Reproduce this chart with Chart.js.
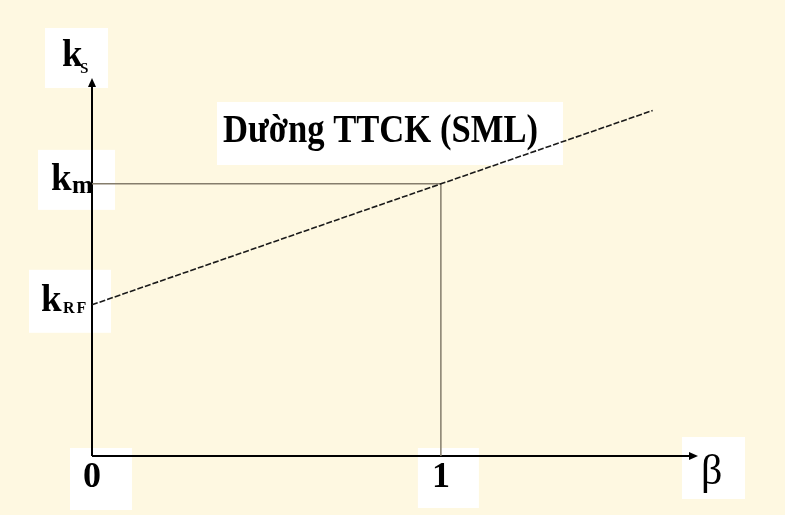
<!DOCTYPE html>
<html>
<head>
<meta charset="utf-8">
<script src="https://cdn.jsdelivr.net/npm/chart.js@4/dist/chart.umd.min.js"></script>
<style>
  html, body { margin: 0; padding: 0; background: #fef8e1; }
  canvas { display: block; }
</style>
</head>
<body>
<canvas id="c" width="785" height="515"></canvas>
<script>
// đường SML: beta -> lợi suất kỳ vọng
const smlBeta = [0, 1, 1.607];
const smlK = [0.4, 0.72, 0.914];
const kRF = 0.4;
const kM = 0.72;
const betaM = 1;
const xMax = 1.737;
const yMax = 1.0;
const xTickLabels = ["0", "1"];
const xTickValues = [0, 1];
const title = "Dường TTCK (SML)";

const SERIF = '"Liberation Serif", "DejaVu Serif", serif';

function arrow(ctx, x, y, dir) {
  // tam giác nhỏ ở đầu trục
  ctx.beginPath();
  if (dir === "up") {
    ctx.moveTo(x, y);
    ctx.lineTo(x - 4, y + 9);
    ctx.lineTo(x + 4, y + 9);
  } else {
    ctx.moveTo(x, y);
    ctx.lineTo(x - 9, y - 4);
    ctx.lineTo(x - 9, y + 4);
  }
  ctx.closePath();
  ctx.fill();
}

function box(ctx, x1, y1, x2, y2) {
  ctx.fillStyle = "#ffffff";
  ctx.fillRect(x1, y1, x2 - x1, y2 - y1);
}

const labelsPlugin = {
  id: "labels",
  beforeDatasetsDraw(chart) {
    const { ctx, scales: { x, y } } = chart;
    const x0 = x.getPixelForValue(0), y0 = y.getPixelForValue(0);
    const xEnd = x.getPixelForValue(xMax), yTop = y.getPixelForValue(yMax);
    const pm = y.getPixelForValue(kM), prf = y.getPixelForValue(kRF);
    const p1 = x.getPixelForValue(betaM);
    ctx.save();
    box(ctx, x0 - 47, yTop - 50, x0 + 16, yTop + 10);
    box(ctx, x0 - 54, pm - 34, x0 + 23, pm + 26);
    box(ctx, x0 - 63, prf - 35, x0 + 19, prf + 28);
    box(ctx, x0 - 22, y0 - 8, x0 + 40, y0 + 54);
    box(ctx, p1 - 23, y0 - 8, p1 + 38, y0 + 52);
    box(ctx, xEnd - 16, y0 - 19, xEnd + 47, y0 + 43);
    box(ctx, x0 + 125, yTop + 24, x0 + 471, yTop + 87);

    // trục
    ctx.strokeStyle = "#000";
    ctx.fillStyle = "#000";
    ctx.lineWidth = 2;
    ctx.beginPath();
    ctx.moveTo(x0, y0);
    ctx.lineTo(x0, yTop + 4);
    ctx.moveTo(x0, y0);
    ctx.lineTo(xEnd - 4, y0);
    ctx.stroke();
    arrow(ctx, x0, yTop, "up");
    arrow(ctx, xEnd, y0, "right");
    ctx.restore();
  },
  afterDatasetsDraw(chart) {
    const { ctx, scales: { x, y } } = chart;
    const x0 = x.getPixelForValue(0), y0 = y.getPixelForValue(0);
    const xEnd = x.getPixelForValue(xMax), yTop = y.getPixelForValue(yMax);
    const pm = y.getPixelForValue(kM), prf = y.getPixelForValue(kRF);
    ctx.save();
    ctx.fillStyle = "#000";
    ctx.textBaseline = "alphabetic";
    ctx.textAlign = "left";

    ctx.font = "bold 37px " + SERIF;
    ctx.fillText("k", x0 - 30, yTop - 12);
    ctx.font = "22px " + SERIF;
    ctx.fillText("s", x0 - 12, yTop - 5);

    ctx.font = "bold 37px " + SERIF;
    ctx.fillText("k", x0 - 41, pm + 6);
    ctx.font = "bold 25px " + SERIF;
    ctx.fillText("m", x0 - 20, pm + 9);

    ctx.font = "bold 37px " + SERIF;
    ctx.fillText("k", x0 - 51, prf + 6);
    ctx.font = "bold 16px " + SERIF;
    ctx.letterSpacing = "2px";
    ctx.fillText("RF", x0 - 29, prf + 8);
    ctx.letterSpacing = "0px";

    ctx.font = "bold 36px " + SERIF;
    xTickValues.forEach((v, i) => {
      const px = x.getPixelForValue(v);
      ctx.fillText(xTickLabels[i], px - 9, y0 + 31);
    });

    ctx.font = "42px " + SERIF;
    ctx.fillText("β", xEnd + 3, y0 + 28);

    ctx.font = "bold 40px " + SERIF;
    ctx.fillText(title, x0 + 131, yTop + 64, 315);
    ctx.restore();
  }
};

new Chart(document.getElementById("c"), {
  type: "scatter",
  data: {
    datasets: [
      {
        label: "SML",
        data: smlBeta.map((b, i) => ({ x: b, y: smlK[i] })),
        showLine: true,
        borderColor: "#1a1a1a",
        borderWidth: 1.6,
        borderDash: [6, 2],
        pointRadius: 0,
        clip: false,
        order: 0
      },
      {
        label: "guide",
        data: [{ x: 0, y: kM }, { x: betaM, y: kM }, { x: betaM, y: 0 }],
        showLine: true,
        borderColor: "#857d6c",
        borderWidth: 1.5,
        pointRadius: 0,
        clip: false,
        order: 1
      }
    ]
  },
  options: {
    responsive: false,
    animation: false,
    layout: { padding: { left: 92, right: 87, top: 78, bottom: 59 } },
    plugins: { legend: { display: false }, tooltip: { enabled: false } },
    scales: {
      x: { type: "linear", min: 0, max: xMax, display: false },
      y: { type: "linear", min: 0, max: yMax, display: false }
    }
  },
  plugins: [labelsPlugin]
});
</script>
</body>
</html>
